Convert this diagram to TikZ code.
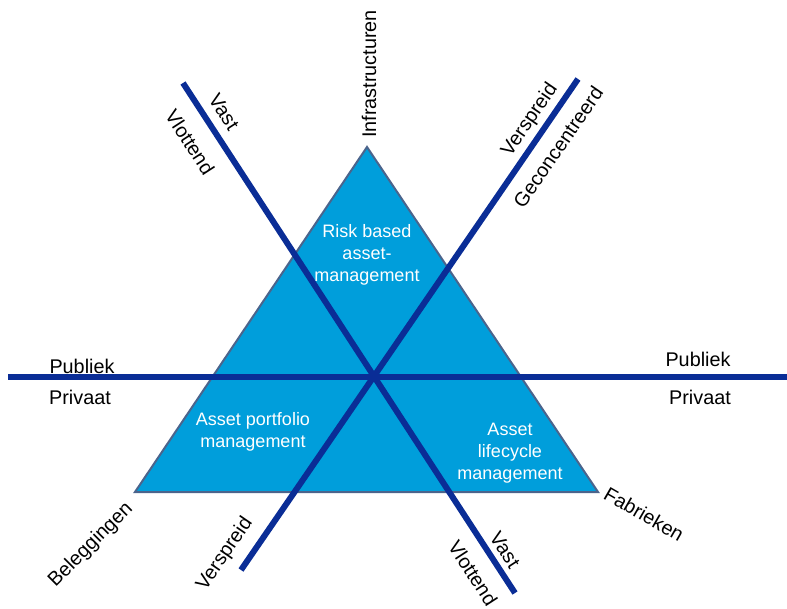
\documentclass[tikz,border=0pt]{standalone}
\usepackage{fontspec}
\setmainfont{Liberation Sans}
\definecolor{axisblue}{RGB}{10,45,150}
\definecolor{zonefill}{RGB}{0,158,219}
\definecolor{zoneedge}{RGB}{75,100,140}

\begin{document}
\begin{tikzpicture}[x=1pt,y=-1pt,
    axis/.style={line width=6pt,draw=axisblue},
    lbl/.style={font=\fontsize{19.8}{23}\selectfont,inner sep=0pt},
    zone/.style={font=\fontsize{18}{22}\selectfont,text=white,align=center,inner sep=0pt}]
    \useasboundingbox (0,0) rectangle (787,608);

    % triangle corners
    \coordinate (apex) at (367,147);
    \coordinate (left) at (135,492);
    \coordinate (right) at (598,492);
    \filldraw[fill=zonefill,draw=zoneedge,line width=2pt,line join=miter] (apex) -- (left) -- (right) -- cycle;

    % line ends
    \coordinate (hLeft) at (8,377);
    \coordinate (hRight) at (787,377);
    \coordinate (vastTop) at (183,83);
    \coordinate (vastBot) at (515,593);
    \coordinate (sprTop) at (578,79);
    \coordinate (sprBot) at (241,570);

    \draw[axis] (hLeft) -- (hRight);
    \draw[axis] (vastTop) -- (vastBot);
    \draw[axis] (sprTop) -- (sprBot);

    \node[zone](riskBased) at (367,255) {Risk based\\asset-\\management};
    \node[zone](portfolio) at (253,432) {Asset portfolio\\management};
    \node[zone](lifecycle) at (510,453) {Asset\\lifecycle\\management};

    \node[lbl,rotate=90](infra) at (369,74) {Infrastructuren};
    \node[lbl,rotate=45](beleg) at (91,545) {Beleggingen};
    \node[lbl,rotate=-30](fabriek) at (644,514) {Fabrieken};

    \node[lbl](publiekL) at (82,366) {Publiek};
    \node[lbl](privaatL) at (80,397) {Privaat};
    \node[lbl](publiekR) at (698,359) {Publiek};
    \node[lbl](privaatR) at (700,397) {Privaat};

    \node[lbl,rotate=-57](vastT) at (224,112) {Vast};
    \node[lbl,rotate=-57](vlotT) at (190,142) {Vlottend};
    \node[lbl,rotate=-57](vastB) at (505,550) {Vast};
    \node[lbl,rotate=-57](vlotB) at (473,573) {Vlottend};

    \node[lbl,rotate=55.5](sprT) at (530,120) {Verspreid};
    \node[lbl,rotate=55.5](gecon) at (558,147) {Geconcentreerd};
    \node[lbl,rotate=55.5](sprB) at (225,554) {Verspreid};
\end{tikzpicture}
\end{document}
